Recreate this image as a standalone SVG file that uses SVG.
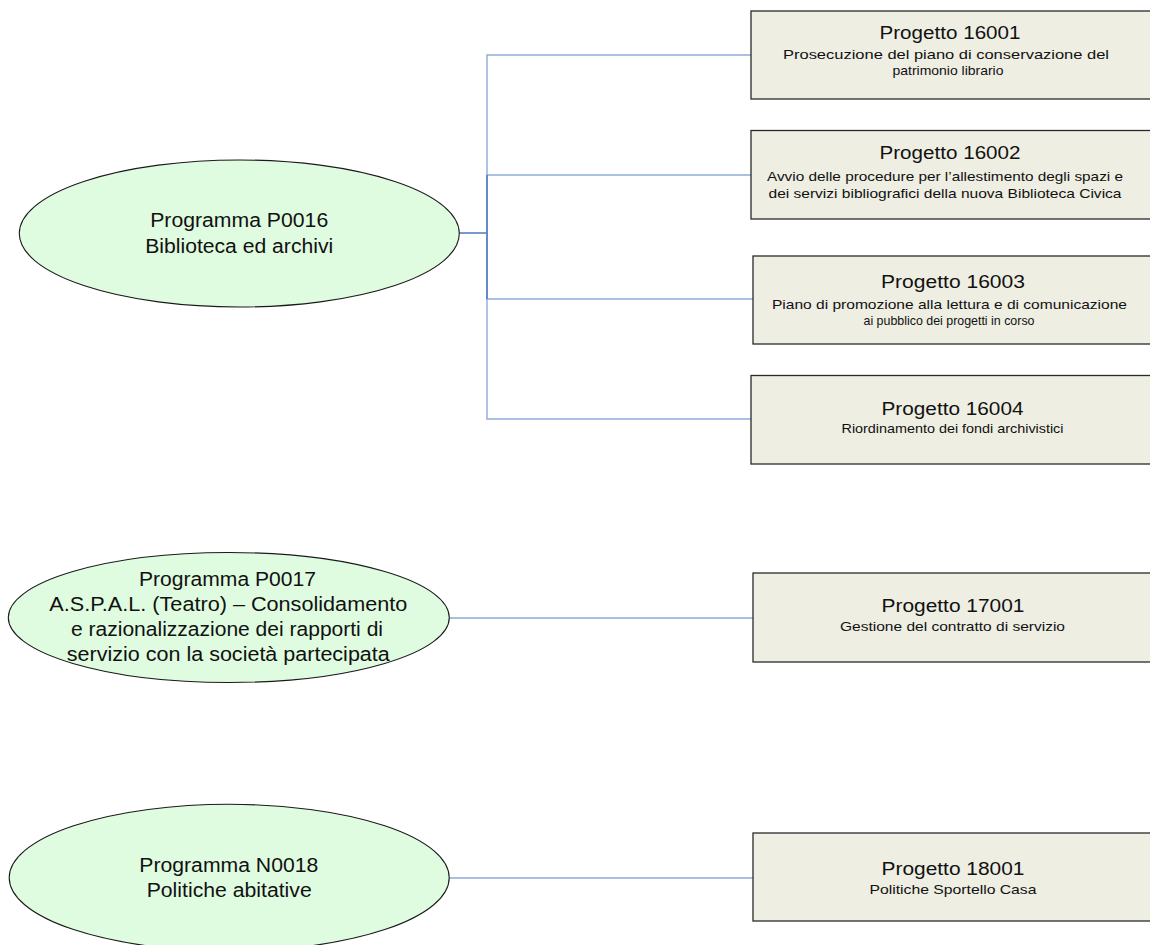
<svg xmlns="http://www.w3.org/2000/svg" width="1150" height="945" viewBox="0 0 1150 945">
<style>
.bg{fill:#ffffff}
.prog{fill:#e0fce0;stroke:#1a1a1a;stroke-width:1.1}
.proj{fill:#eeeee3;stroke:#2a2a2a;stroke-width:1.3}
.conn{fill:none;stroke:#8eaadb;stroke-width:1.4}
.trunk{fill:none;stroke:#4f78c6;stroke-width:1.4}
text{font-family:"Liberation Sans",Arial,sans-serif;fill:#111;text-anchor:middle}
.pt{font-size:19.5px}
.t{font-size:17.5px}
.s{font-size:13px}
</style>
<rect class="bg" x="0" y="0" width="1150" height="945"/>
<g id="connectors">
<path class="conn" d="M487,233 V55 H751"/>
<path class="conn" d="M487,233 V175 H751"/>
<path class="conn" d="M487,233 V299 H753"/>
<path class="conn" d="M487,233 V419 H751"/>
<path class="trunk" d="M459,233 H487 M487,175 V299"/>
<path class="conn" d="M449,618 H753"/>
<path class="conn" d="M449,878 H753"/>
</g>
<g id="P0016">
<ellipse class="prog" cx="239.3" cy="233.5" rx="220" ry="73.5"/>
<text class="pt" x="239.2" y="227" textLength="178" lengthAdjust="spacingAndGlyphs">Programma P0016</text>
<text class="pt" x="239.2" y="253" textLength="188" lengthAdjust="spacingAndGlyphs">Biblioteca ed archivi</text>
</g>
<g id="P0017">
<ellipse class="prog" cx="228.8" cy="617.5" rx="220.5" ry="65"/>
<text class="pt" x="227.5" y="586" textLength="177" lengthAdjust="spacingAndGlyphs">Programma P0017</text>
<text class="pt" x="228.3" y="611" textLength="358" lengthAdjust="spacingAndGlyphs">A.S.P.A.L. (Teatro) – Consolidamento</text>
<text class="pt" x="227" y="636" textLength="312" lengthAdjust="spacingAndGlyphs">e razionalizzazione dei rapporti di</text>
<text class="pt" x="228.3" y="661" textLength="323" lengthAdjust="spacingAndGlyphs">servizio con la società partecipata</text>
</g>
<g id="N0018">
<ellipse class="prog" cx="229.2" cy="877.7" rx="220" ry="73.4"/>
<text class="pt" x="228.8" y="872" textLength="179" lengthAdjust="spacingAndGlyphs">Programma N0018</text>
<text class="pt" x="229.2" y="897" textLength="165" lengthAdjust="spacingAndGlyphs">Politiche abitative</text>
</g>
<g id="16001">
<rect class="proj" x="751" y="11" width="402" height="88"/>
<text class="t" x="950" y="39" textLength="141" lengthAdjust="spacingAndGlyphs">Progetto 16001</text>
<text class="s" x="946" y="58.5" textLength="326" lengthAdjust="spacingAndGlyphs">Prosecuzione del piano di conservazione del</text>
<text class="s" x="948" y="74.5" textLength="111" lengthAdjust="spacingAndGlyphs">patrimonio librario</text>
</g>
<g id="16002">
<rect class="proj" x="751" y="130.5" width="402" height="88.5"/>
<text class="t" x="950" y="159" textLength="141" lengthAdjust="spacingAndGlyphs">Progetto 16002</text>
<text class="s" x="945" y="180.5" textLength="356" lengthAdjust="spacingAndGlyphs">Avvio delle procedure per l’allestimento degli spazi e</text>
<text class="s" x="945" y="197.5" textLength="353" lengthAdjust="spacingAndGlyphs">dei servizi bibliografici della nuova Biblioteca Civica</text>
</g>
<g id="16003">
<rect class="proj" x="753" y="256" width="400" height="88"/>
<text class="t" x="953" y="288" textLength="144" lengthAdjust="spacingAndGlyphs">Progetto 16003</text>
<text class="s" x="949.5" y="308.5" textLength="355" lengthAdjust="spacingAndGlyphs">Piano di promozione alla lettura e di comunicazione</text>
<text class="s" x="949" y="325" textLength="171" lengthAdjust="spacingAndGlyphs">ai pubblico dei progetti in corso</text>
</g>
<g id="16004">
<rect class="proj" x="751" y="375.5" width="402" height="88.5"/>
<text class="t" x="952.5" y="415" textLength="142" lengthAdjust="spacingAndGlyphs">Progetto 16004</text>
<text class="s" x="952.5" y="432.5" textLength="222" lengthAdjust="spacingAndGlyphs">Riordinamento dei fondi archivistici</text>
</g>
<g id="17001">
<rect class="proj" x="753" y="573" width="400" height="89"/>
<text class="t" x="953" y="611.5" textLength="143" lengthAdjust="spacingAndGlyphs">Progetto 17001</text>
<text class="s" x="952.5" y="630.5" textLength="225" lengthAdjust="spacingAndGlyphs">Gestione del contratto di servizio</text>
</g>
<g id="18001">
<rect class="proj" x="753" y="833" width="400" height="88"/>
<text class="t" x="953" y="875" textLength="143" lengthAdjust="spacingAndGlyphs">Progetto 18001</text>
<text class="s" x="953" y="894" textLength="167" lengthAdjust="spacingAndGlyphs">Politiche Sportello Casa</text>
</g>
</svg>
